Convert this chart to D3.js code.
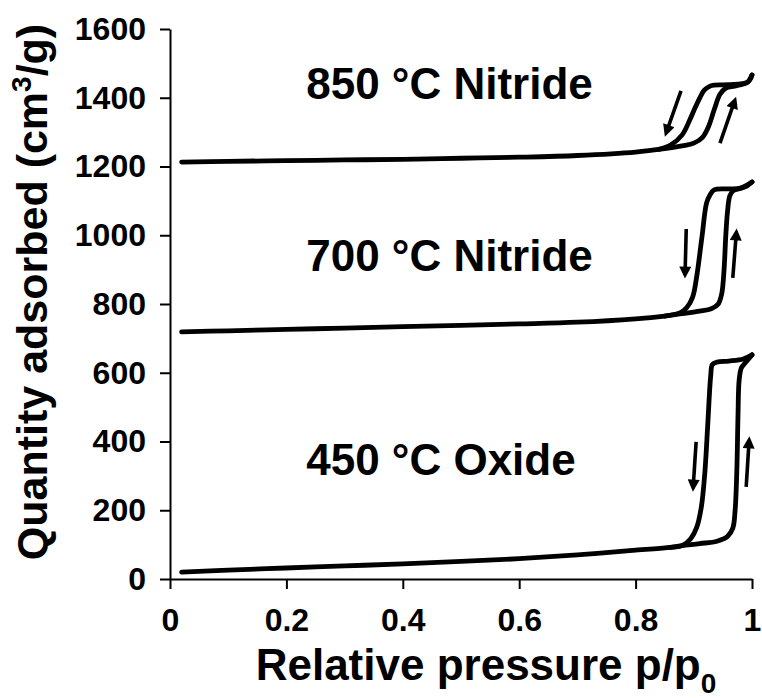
<!DOCTYPE html>
<html>
<head>
<meta charset="utf-8">
<script src="https://cdn.jsdelivr.net/npm/d3@7"></script>
<style>
  body { margin: 0; background: #fff; }
  text { font-family: "Liberation Sans", Arial, sans-serif; font-weight: bold; fill: #000; }
</style>
</head>
<body>
<div id="chart"></div>
<script>
// isotherm branches, [p/p0, cm3/g]
const oxideAds = [[0.02, 20], [0.1, 26], [0.2, 32], [0.3, 38], [0.4, 44], [0.5, 51], [0.6, 59], [0.7, 70],
  [0.8, 84], [0.86, 92], [0.88, 97], [0.91, 103], [0.94, 110], [0.958, 124], [0.967, 148], [0.971, 200],
  [0.974, 320], [0.976, 480], [0.978, 580], [0.982, 615], [0.99, 632], [1.0, 652]];
const oxideDes = [[1.0, 652], [0.985, 640], [0.96, 634], [0.94, 631], [0.932, 624], [0.929, 590],
  [0.924, 450], [0.919, 310], [0.913, 210], [0.905, 150], [0.895, 118], [0.88, 97], [0.86, 92]];

const nitride700Ads = [[0.02, 719], [0.1, 722], [0.2, 726], [0.3, 730], [0.4, 734], [0.5, 738], [0.6, 742],
  [0.7, 747], [0.8, 757], [0.85, 765], [0.88, 772], [0.91, 779], [0.93, 786], [0.942, 800], [0.948, 830],
  [0.952, 900], [0.955, 1000], [0.958, 1070], [0.962, 1115], [0.968, 1130], [0.98, 1136], [0.99, 1142], [1.0, 1155]];
const nitride700Des = [[1.0, 1155], [0.98, 1137], [0.955, 1135], [0.935, 1132], [0.928, 1118], [0.922, 1094],
  [0.914, 995], [0.905, 880], [0.898, 820], [0.888, 790], [0.876, 774], [0.85, 765]];

const nitride850Ads = [[0.02, 1213], [0.1, 1215], [0.2, 1217], [0.3, 1219], [0.4, 1221], [0.5, 1224], [0.6, 1227],
  [0.7, 1232], [0.8, 1242], [0.85, 1252], [0.88, 1260], [0.9, 1268], [0.915, 1285], [0.925, 1315], [0.935, 1365],
  [0.945, 1410], [0.955, 1428], [0.97, 1434], [0.985, 1440], [0.993, 1446], [1.0, 1466]];
const nitride850Des = [[1.0, 1466], [0.993, 1446], [0.96, 1438], [0.935, 1437], [0.928, 1434], [0.918, 1422],
  [0.911, 1402], [0.902, 1370], [0.893, 1335], [0.88, 1292], [0.86, 1262], [0.84, 1250]];

const xTicks = [0, 0.2, 0.4, 0.6, 0.8, 1];
const yTicks = [0, 200, 400, 600, 800, 1000, 1200, 1400, 1600];

const sampleNames = ['850 °C Nitride', '700 °C Nitride', '450 °C Oxide'];
const nameAnchors = [[0.234, 1396], [0.234, 896], [0.234, 302]];

// desorption (down) and adsorption (up) arrows: [from, to]
const branchArrows = [
  [[0.878, 1420], [0.853, 1300]], [[0.945, 1268], [0.970, 1390]],
  [[0.887, 1018], [0.885, 888]], [[0.967, 876], [0.973, 1006]],
  [[0.904, 399], [0.899, 268]], [[0.990, 268], [0.995, 401]]
];

const W = 762, H = 698;
const x = d3.scaleLinear().domain([0, 1]).range([170, 752]);
const y = d3.scaleLinear().domain([0, 1600]).range([579, 29]);

const svg = d3.select('#chart').append('svg')
  .attr('width', W)
  .attr('height', H);

svg.append('defs').append('marker')
  .attr('id', 'head')
  .attr('viewBox', '0 0 10 10')
  .attr('refX', 6)
  .attr('refY', 5)
  .attr('markerUnits', 'userSpaceOnUse')
  .attr('markerWidth', 15)
  .attr('markerHeight', 12)
  .attr('orient', 'auto')
  .append('path')
  .attr('d', 'M0,0L10,5L0,10z')
  .attr('fill', '#000');

// axes
const xAxis = svg.append('g')
  .attr('transform', `translate(0,${y(0)})`)
  .call(d3.axisBottom(x).tickValues(xTicks).tickFormat(d => String(d))
    .tickSizeInner(10).tickSizeOuter(0).tickPadding(19));

const yAxis = svg.append('g')
  .attr('transform', `translate(${x(0)},0)`)
  .call(d3.axisLeft(y).tickValues(yTicks).tickFormat(d => String(d))
    .tickSizeInner(10).tickSizeOuter(0).tickPadding(14));

[xAxis, yAxis].forEach(a => {
  a.select('.domain').attr('stroke', '#000').attr('stroke-width', 2);
  a.selectAll('.tick line').attr('stroke', '#000').attr('stroke-width', 2);
  a.selectAll('.tick text')
    .attr('font-family', '"Liberation Sans", Arial, sans-serif')
    .attr('font-weight', 'bold')
    .attr('font-size', 32)
    .attr('fill', '#000');
});

// isotherms
const line = d3.line()
  .x(d => x(d[0]))
  .y(d => y(d[1]))
  .curve(d3.curveCatmullRom.alpha(0.5));

[oxideAds, oxideDes, nitride700Ads, nitride700Des, nitride850Ads, nitride850Des].forEach(branch => {
  svg.append('path')
    .datum(branch)
    .attr('d', line)
    .attr('fill', 'none')
    .attr('stroke', '#000')
    .attr('stroke-width', 4.8)
    .attr('stroke-linecap', 'round')
    .attr('stroke-linejoin', 'round');
});

svg.selectAll('.arrow')
  .data(branchArrows)
  .enter()
  .append('line')
  .attr('class', 'arrow')
  .attr('x1', d => x(d[0][0]))
  .attr('y1', d => y(d[0][1]))
  .attr('x2', d => x(d[1][0]))
  .attr('y2', d => y(d[1][1]))
  .attr('stroke', '#000')
  .attr('stroke-width', 3.6)
  .attr('marker-end', 'url(#head)');

// sample labels
svg.selectAll('.name')
  .data(sampleNames)
  .enter()
  .append('text')
  .attr('class', 'name')
  .attr('x', (d, i) => x(nameAnchors[i][0]))
  .attr('y', (d, i) => y(nameAnchors[i][1]))
  .attr('font-size', 44)
  .text(d => d);

// axis titles
const xTitle = svg.append('text')
  .attr('x', 486)
  .attr('y', 680)
  .attr('text-anchor', 'middle')
  .attr('font-size', 44);
xTitle.append('tspan').text('Relative pressure p/p');
xTitle.append('tspan').attr('dy', 13).attr('font-size', 28).text('0');

const yTitle = svg.append('text')
  .attr('transform', 'translate(47,292) rotate(-90)')
  .attr('text-anchor', 'middle')
  .attr('font-size', 43);
yTitle.append('tspan').text('Quantity adsorbed (cm');
yTitle.append('tspan').attr('dy', -16).attr('font-size', 28).text('3');
yTitle.append('tspan').attr('dy', 16).text('/g)');
</script>
</body>
</html>
